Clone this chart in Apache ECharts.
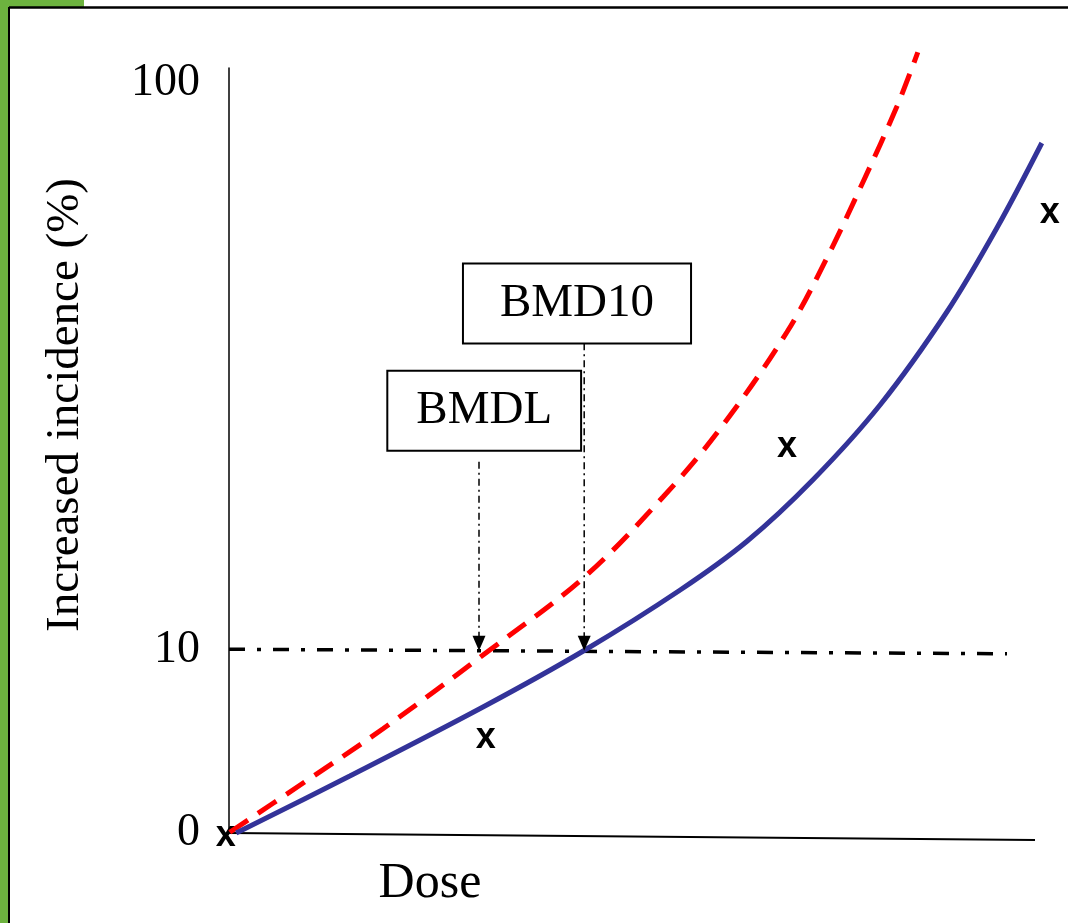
<!DOCTYPE html>
<html>
<head>
<meta charset="utf-8">
<script src="https://cdn.jsdelivr.net/npm/echarts@6/dist/echarts.min.js"></script>
<style>
  html, body { margin: 0; padding: 0; background: #fff; }
  #main { width: 1068px; height: 923px; }
</style>
</head>
<body>
<div id="main"></div>
<script>
// schematic units: dose 0..102, incidence drawn on a stretched scale (label "10" sits at 24.4)
const yTickValues = [0, 24.4, 100];
const yTickLabels = ['0', '10', '100'];

// fitted dose-response curve (solid blue)
const fittedCurve = [
  [0.9, 0], [15.1, 7.6], [31.75, 16.8], [44.5, 24.4], [56.4, 32.4], [64.75, 38.9],
  [73.0, 47.1], [81.4, 57.1], [89.75, 69.5], [96.0, 80.7], [101.6, 92.0]
];
// lower confidence limit curve (red dashed)
const lowerLimitCurve = [
  [0.1, 0.1], [8.9, 6.4], [19.25, 13.9], [32.6, 24.4], [44.4, 34.1], [54.25, 44.8],
  [61.4, 53.9], [69.75, 66.8], [74.75, 76.7], [79.25, 86.8], [83.5, 96.9], [86.1, 104.1]
];
// observed data points
const observed = [[-0.4, -0.4], [32.1, 12.6], [69.75, 51.4], [102.6, 82.6]];

// 10% benchmark response line and x axis baseline
const benchmarkLine = [[0, 24.5], [97.25, 23.9]];
const doseBaseline = [[0, 0], [100.75, -0.93]];

// arrows from label boxes down to the benchmark line
const bmdlArrow = [[31.25, 49.5], [31.25, 25.3]];
const bmd10Arrow = [[44.4, 65.3], [44.4, 25.3]];

const boxLabels = ['BMD10', 'BMDL'];
const boxPositions = [[43.5, 70.6], [31.9, 56.3]];

const serif = 'Liberation Serif, Times New Roman, serif';

const chart = echarts.init(document.getElementById('main'));

function arrowData(points) {
  return [
    {value: points[0], symbol: 'none'},
    {value: points[1], symbol: 'triangle', symbolSize: [13, 15], symbolRotate: 180}
  ];
}

const option = {
  animation: false,
  backgroundColor: '#fff',
  grid: {left: 229, right: 23, top: 68, bottom: 90},
  xAxis: {
    type: 'value',
    min: 0,
    max: 102,
    axisLine: {show: false},
    axisTick: {show: false},
    axisLabel: {show: false},
    splitLine: {show: false}
  },
  yAxis: {
    type: 'value',
    min: 0,
    max: 102,
    axisLine: {show: true, lineStyle: {color: '#000', width: 1.5}},
    axisTick: {show: false},
    splitLine: {show: false},
    axisLabel: {
      customValues: yTickValues,
      formatter: function (v) {
        const i = yTickValues.indexOf(v);
        return i >= 0 ? yTickLabels[i] : '';
      },
      margin: 29,
      color: '#000',
      fontFamily: serif,
      fontSize: 46
    }
  },
  graphic: [
    {type: 'rect', shape: {x: 0, y: 0, width: 8, height: 923}, style: {fill: '#6db33f'}},
    {type: 'rect', shape: {x: 0, y: 0, width: 84, height: 7}, style: {fill: '#6db33f'}},
    {type: 'line', shape: {x1: 9, y1: 7.5, x2: 1068, y2: 7.5}, style: {stroke: '#000', lineWidth: 2.5}},
    {type: 'line', shape: {x1: 9, y1: 7, x2: 9, y2: 923}, style: {stroke: '#000', lineWidth: 2}},
    {
      type: 'text', x: 66, y: 405, rotation: Math.PI / 2,
      style: {text: 'Increased incidence (%)', font: '47px ' + serif, fill: '#000', align: 'center', verticalAlign: 'middle'}
    },
    {
      type: 'text', x: 430, y: 884,
      style: {text: 'Dose', font: '50px ' + serif, fill: '#000', align: 'center', verticalAlign: 'middle'}
    }
  ],
  series: [
    {
      type: 'line', data: doseBaseline, symbol: 'none', clip: false, silent: true,
      lineStyle: {color: '#000', width: 2}
    },
    {
      type: 'line', data: benchmarkLine, symbol: 'none', clip: false, silent: true,
      lineStyle: {color: '#000', width: 3.5, type: [16, 12, 4, 12]}
    },
    {
      name: 'BMDL curve', type: 'line', data: lowerLimitCurve, smooth: 0.35,
      symbol: 'none', clip: false,
      lineStyle: {color: '#ff0000', width: 5, type: [22, 12]}
    },
    {
      name: 'Fitted curve', type: 'line', data: fittedCurve, smooth: 0.35,
      symbol: 'none', clip: false,
      lineStyle: {color: '#333399', width: 5}
    },
    {
      type: 'line', data: arrowData(bmdlArrow), clip: false, silent: true,
      itemStyle: {color: '#000'},
      lineStyle: {color: '#000', width: 1.5, type: [7, 4, 2, 4]}
    },
    {
      type: 'line', data: arrowData(bmd10Arrow), clip: false, silent: true,
      itemStyle: {color: '#000'},
      lineStyle: {color: '#000', width: 1.5, type: [7, 4, 2, 4]}
    },
    {
      type: 'scatter', data: observed, symbolSize: 0.1, clip: false,
      itemStyle: {color: '#000', opacity: 1},
      label: {
        show: true, position: 'inside', formatter: 'x', opacity: 1,
        color: '#000', fontFamily: 'Liberation Sans, Arial, sans-serif', fontWeight: 'bold', fontSize: 36
      }
    },
    {
      type: 'scatter', clip: false, symbolSize: 0.1,
      itemStyle: {color: '#fff', opacity: 1},
      data: boxLabels.map(function (name, i) {
        return {
          value: boxPositions[i],
          label: {padding: i === 0 ? [14, 36, 14, 36] : [14, 28, 14, 28]}
        };
      }),
      label: {
        show: true, position: 'inside', opacity: 1,
        formatter: function (p) { return boxLabels[p.dataIndex]; },
        color: '#000', fontFamily: serif, fontSize: 47, lineHeight: 50,
        backgroundColor: '#fff', borderColor: '#000', borderWidth: 2
      }
    }
  ]
};

chart.setOption(option);
</script>
</body>
</html>
